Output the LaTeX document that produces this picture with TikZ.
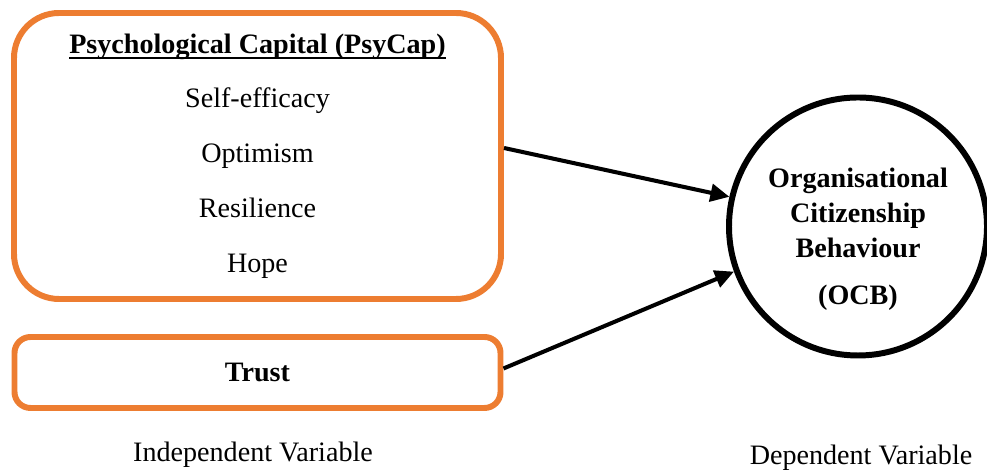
\documentclass[tikz,border=0pt]{standalone}
\usepackage{fontspec}
\setmainfont{Liberation Serif}
\usepackage{tikz}
\usetikzlibrary{arrows.meta,positioning}
\definecolor{boxorange}{HTML}{ED7D31}
\newcommand{\headline}[1]{\underline{\smash{#1}}\vphantom{(}}

\begin{document}
\begin{tikzpicture}[
        font=\fontsize{8}{10}\selectfont,
        varbox/.style={draw=boxorange,line width=1.7pt,align=center,inner sep=0pt},
        depcircle/.style={draw,circle,line width=1.7pt,minimum size=2.58cm,inner sep=0pt},
        link/.style={-{Triangle[length=5.4pt,width=5pt]},line width=1.15pt}]
        % \draw[help lines,xstep=1,ystep=1] (0,0) grid (10,5);
        \useasboundingbox (0,0) rectangle (9.87,4.71);

        % independent variables
        \node[varbox,rounded corners=0.45cm,minimum width=4.87cm,minimum height=2.86cm] (psycap) at (2.575,3.15)
            {\textbf{\headline{Psychological Capital (PsyCap)}}\\[5.6pt]
             Self-efficacy\\[5.6pt] Optimism\\[5.6pt] Resilience\\[5.6pt] Hope};
        \node[varbox,rounded corners=0.16cm,minimum width=4.86cm,minimum height=0.71cm] (trust) at (2.575,0.985)
            {\textbf{Trust}};

        % dependent variable
        \node[depcircle] (ocb) at (8.58,2.445) {};
        \node[align=center,font=\fontsize{8}{10}\selectfont\bfseries] (ocbtext) at ([yshift=-0.13cm]ocb.center)
            {Organisational\\ Citizenship\\ Behaviour\\[3.4pt] (OCB)};

        % links to OCB
        \draw[link] ([yshift=0.08cm]psycap.east) -- (ocb.167);
        \draw[link] ([yshift=0.04cm]trust.east) -- (ocb.200);

        % captions
        \node (indep) at (2.53,0.16) {Independent Variable};
        \node (dep) at (8.61,0.13) {Dependent Variable};

      \end{tikzpicture}
\end{document}
